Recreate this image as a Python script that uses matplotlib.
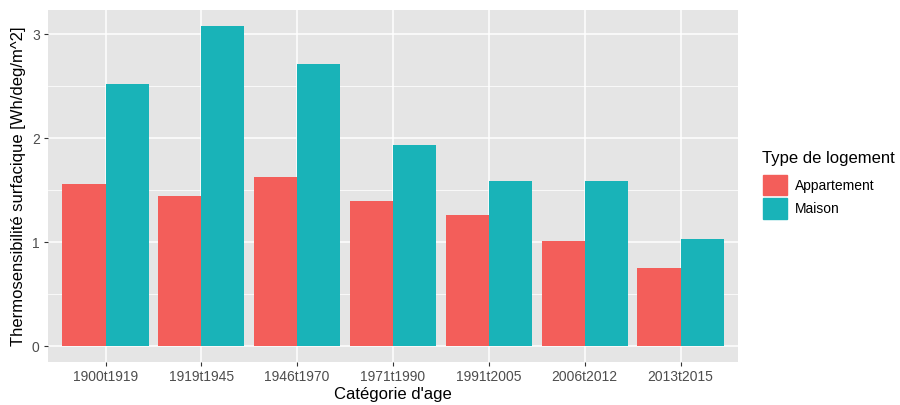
import matplotlib.pyplot as plt
import matplotlib.patches as mpatches
import numpy as np

plt.rcParams['font.family'] = ['Liberation Sans', 'DejaVu Sans']

# data
categories = ['1900t1919', '1919t1945', '1946t1970', '1971t1990',
              '1991t2005', '2006t2012', '2013t2015']
appartement = [1.56, 1.44, 1.63, 1.40, 1.26, 1.01, 0.75]
maison = [2.52, 3.08, 2.71, 1.93, 1.59, 1.59, 1.03]
series_names = ['Appartement', 'Maison']
colors = ['#F35E5A', '#19B3B8']

fig = plt.figure(figsize=(9, 4.05), dpi=100)
ax = fig.add_axes([48/900, 43/405, 690/900, 352/405])
ax.set_facecolor('#E5E5E5')

x = np.arange(len(categories))
w = 0.45
ax.bar(x - w/2, appartement, width=w, color=colors[0], zorder=3)
ax.bar(x + w/2, maison, width=w, color=colors[1], zorder=3)

ax.set_xlim(-0.6, len(categories) - 0.4)
ymax = max(maison)
ax.set_ylim(-0.05*ymax, 1.05*ymax)

ax.set_yticks([0, 1, 2, 3])
ax.set_yticks([0.5, 1.5, 2.5], minor=True)
ax.set_xticks(x)
ax.set_xticklabels(categories)

ax.grid(which='major', color='white', linewidth=1.1, zorder=0)
ax.grid(which='minor', axis='y', color='white', linewidth=0.55, zorder=0)
ax.set_axisbelow(True)
for s in ax.spines.values():
    s.set_visible(False)
ax.tick_params(which='major', length=3, color='#333333', width=0.8,
               labelsize=10, labelcolor='#4D4D4D', pad=3)
ax.tick_params(which='minor', length=0)

ax.set_xlabel("Catégorie d'age", fontsize=12, labelpad=2)
ax.set_ylabel('Thermosensibilité surfacique [Wh/deg/m^2]', fontsize=12, labelpad=4)

handles = [mpatches.Patch(color=c, label=n) for c, n in zip(colors, series_names)]
leg = fig.legend(handles=handles, title='Type de logement', loc='upper left',
                 bbox_to_anchor=(750/900, 1 - 139/405), frameon=False,
                 fontsize=10, title_fontsize=12, handlelength=1.75, handleheight=1.9,
                 handletextpad=0.6, labelspacing=0.2)
leg._legend_box.align = 'left'
leg._legend_box.sep = 6

plt.savefig('out.png', dpi=100, facecolor='white')
plt.close()
